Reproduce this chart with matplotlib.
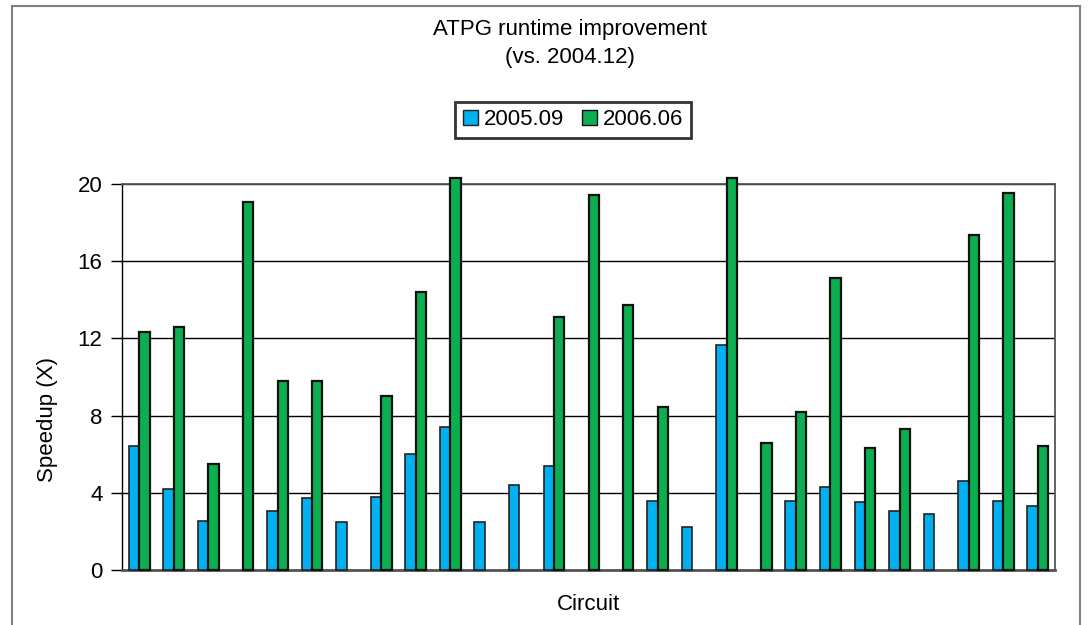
import numpy as np
import matplotlib.pyplot as plt
from matplotlib.patches import Rectangle

plt.rcParams['font.family'] = ['Liberation Sans', 'DejaVu Sans']

# speedup per circuit (nan = no bar)
nan = np.nan
speed_0509 = [6.4, 4.2, 2.55, nan, 3.05, 3.75, 2.5, 3.8, 6.0, 7.4, 2.5, 4.4, 5.4, nan,
              nan, 3.6, 2.25, 11.65, nan, 3.55, 4.3, 3.5, 3.05, 2.9, 4.6, 3.6, 3.3]
speed_0606 = [12.35, 12.6, 5.5, 19.05, 9.8, 9.8, nan, 9.0, 14.4, 20.3, nan, nan, 13.1, 19.45,
              13.75, 8.45, nan, 20.3, 6.6, 8.2, 15.15, 6.3, 7.3, nan, 17.35, 19.55, 6.4]
series_names = ['2005.09', '2006.06']
yticks = [0, 4, 8, 12, 16, 20]

W, H = 1088, 625
fs = 16
fig = plt.figure(figsize=(W / 100, H / 100), dpi=100)
ax = fig.add_axes([122 / W, 55 / H, 933 / W, 386 / H])

x = np.arange(len(speed_0509))
bw = 0.30
ax.bar(x - bw / 2, speed_0509, bw, color='#00B0F0', edgecolor='#222222',
       linewidth=1.2, label=series_names[0], clip_on=False, zorder=3)
ax.bar(x + bw / 2, speed_0606, bw, color='#0BAF50', edgecolor='#111111',
       linewidth=1.6, label=series_names[1], clip_on=False, zorder=3)

ax.set_xlim(-0.5, len(x) - 0.5)
ax.set_ylim(0, 20)
ax.set_yticks(yticks)
ax.set_xticks([])
ax.tick_params(axis='y', labelsize=fs, length=8, width=1, direction='out', pad=6)
ax.yaxis.grid(True, color='black', linewidth=1)
ax.set_axisbelow(True)
for s in ['top', 'right', 'bottom']:
    ax.spines[s].set_color('#555555')
    ax.spines[s].set_linewidth(1.3)
ax.spines['bottom'].set_linewidth(2)
ax.spines['left'].set_color('black')
ax.spines['left'].set_linewidth(1)

ax.set_ylabel('Speedup (X)', fontsize=fs, va='center')
ax.yaxis.set_label_coords(47 / W, 1 - 420 / H, transform=fig.transFigure)
fig.text(588 / W, 1 - 604 / H, 'Circuit', fontsize=fs, ha='center', va='center')

fig.text(570 / W, 1 - 30 / H, 'ATPG runtime improvement', fontsize=fs, ha='center', va='center')
fig.text(570 / W, 1 - 57 / H, '(vs. 2004.12)', fontsize=fs, ha='center', va='center')

leg = fig.legend(loc='center', bbox_to_anchor=(573 / W, 1 - 120 / H), ncol=2,
                 fontsize=fs, frameon=True, fancybox=False, handlelength=0.7,
                 handleheight=0.7, handletextpad=0.25, columnspacing=0.8,
                 borderpad=0.35, edgecolor='black')
leg.get_frame().set_linewidth(2)
for h in leg.legend_handles:
    h.set_linewidth(1)

# chart border (runs off the bottom edge)
fig.patches.append(Rectangle((12 / W, -0.1), 1068 / W, 1 - 6 / H + 0.1, transform=fig.transFigure,
                             fill=False, edgecolor='#808080', linewidth=1.5, clip_on=False))

fig.savefig('out.png', dpi=100)
